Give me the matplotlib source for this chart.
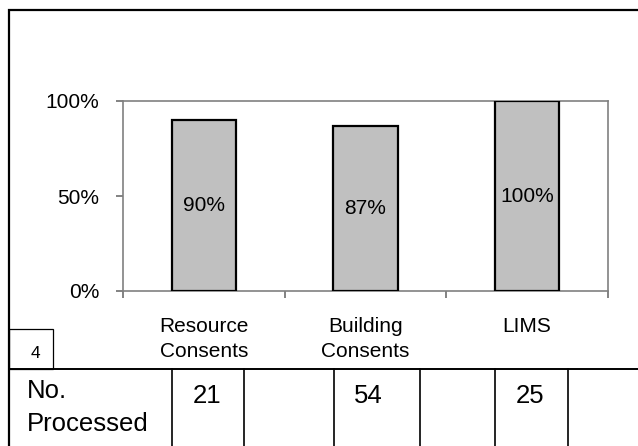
import numpy as np
import matplotlib
matplotlib.use('Agg')
import matplotlib.pyplot as plt
from matplotlib.patches import Rectangle
from matplotlib.lines import Line2D
import matplotlib.transforms as mtransforms

plt.rcParams['font.family'] = ['Liberation Sans', 'DejaVu Sans']

categories = ['Resource\nConsents', 'Building\nConsents', 'LIMS']
pct_done = [0.90, 0.87, 1.00]
pct_labels = ['90%', '87%', '100%']
num_processed = [21, 54, 25]
row_label = 'No.\nProcessed'
corner_label = '4'

W, H = 638, 446
fig = plt.figure(figsize=(W / 100, H / 100), dpi=100)

def fx(px):
    return px / W

def fy(py):
    return 1 - py / H

# plot area
ax = fig.add_axes([fx(123), fy(291), fx(608) - fx(123), fy(101) - fy(291)])
x = np.arange(len(categories))
ax.bar(x, pct_done, width=0.4, color='#c0c0c0', edgecolor='black', linewidth=1.6, zorder=3)
for xi, v, lab in zip(x, pct_done, pct_labels):
    ax.text(xi, v / 2, lab, ha='center', va='center', fontsize=15, zorder=4)

ax.set_xlim(-0.5, len(categories) - 0.5)
ax.set_ylim(0, 1)
ax.set_yticks([0, 0.5, 1])
ax.set_yticklabels(['0%', '50%', '100%'], fontsize=15)
ax.set_xticks(np.arange(len(categories) + 1) - 0.5)
ax.set_xticklabels([])
ax.set_xticks(x, minor=True)
ax.set_xticklabels(categories, minor=True, fontsize=15, linespacing=1.4, va='top')
ax.tick_params(axis='x', which='minor', length=0, pad=19)
ax.tick_params(axis='both', which='major', direction='out', length=5, width=1.1, color='#606060')
ax.tick_params(axis='y', which='major', pad=12)
for s in ax.spines.values():
    s.set_color('#808080')
    s.set_linewidth(1.2)

# outer frame
fig.patches.append(Rectangle((fx(9), fy(460)), fx(650) - fx(9), fy(10) - fy(460),
                             transform=fig.transFigure, fill=False, edgecolor='black', linewidth=1.6))

# small corner box
fig.patches.append(Rectangle((fx(9), fy(369)), fx(53) - fx(9), fy(329) - fy(369),
                             transform=fig.transFigure, fill=False, edgecolor='black', linewidth=0.9))
fig.text(fx(35), fy(354), corner_label, ha='center', va='center', fontsize=12.5)

# data table below the chart
fig.lines.append(Line2D([fx(9), fx(650)], [fy(369), fy(369)], transform=fig.transFigure,
                        color='black', linewidth=1.4))
for px in [172, 244, 334, 420, 495, 568]:
    fig.lines.append(Line2D([fx(px), fx(px)], [fy(369), fy(460)], transform=fig.transFigure,
                            color='black', linewidth=1.2))

fig.text(fx(27), fy(391), 'No.', ha='left', va='center', fontsize=18.5)
fig.text(fx(27), fy(424), 'Processed', ha='left', va='center', fontsize=18.5)

trans = mtransforms.blended_transform_factory(ax.transData, fig.transFigure)
for xi, n in zip(x, num_processed):
    fig.text(xi + 0.02, fy(396), str(n), ha='center', va='center', fontsize=18.5, transform=trans)

fig.savefig('out.png', dpi=100)
